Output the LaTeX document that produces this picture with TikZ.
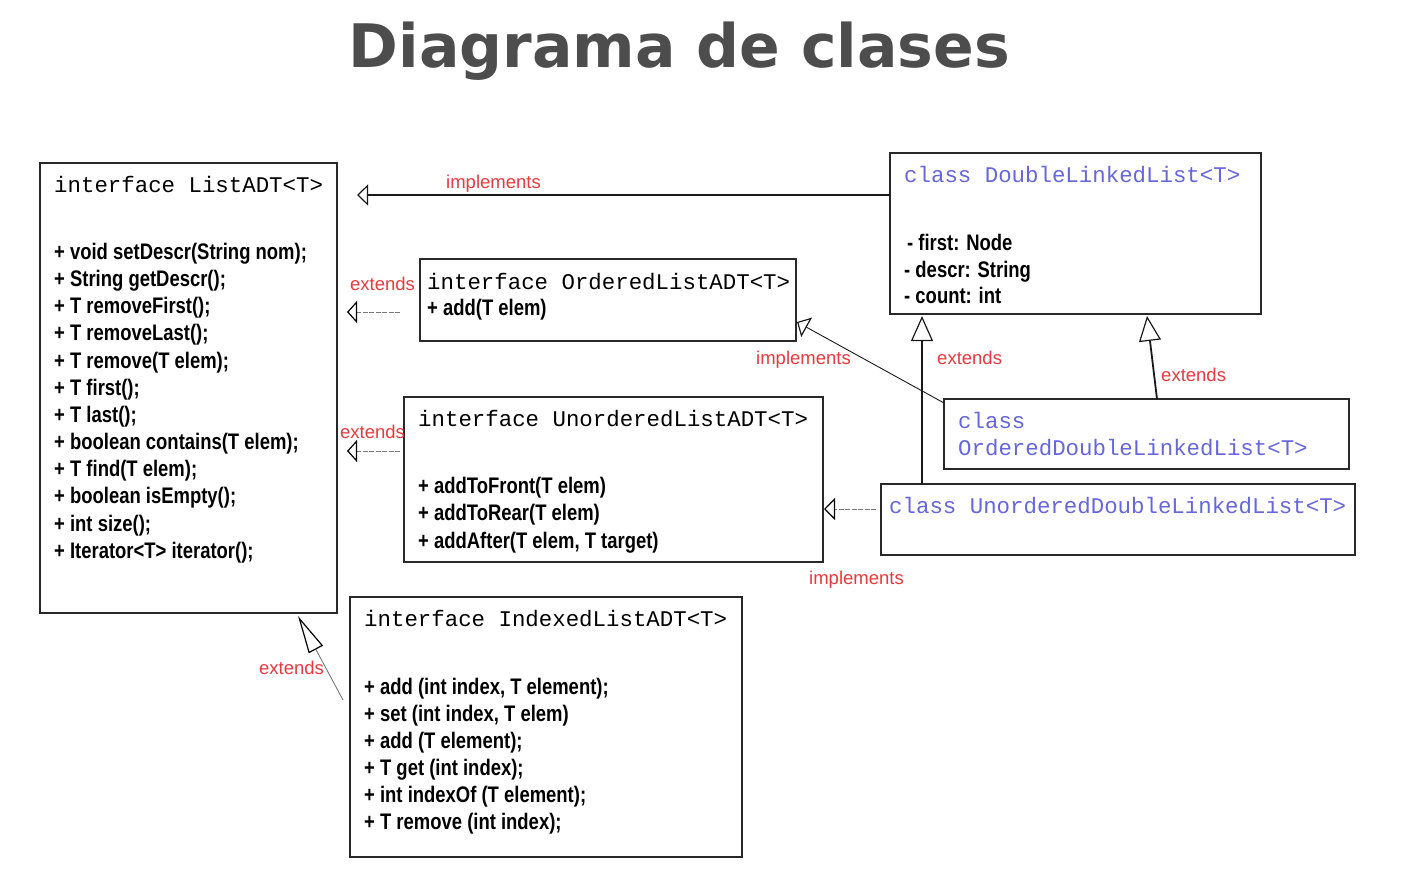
\documentclass[tikz,border=0pt]{standalone}
\usepackage{fontspec}
\setmainfont{Liberation Sans}
\newfontfamily\monof{Liberation Mono}
\newfontfamily\methf{Liberation Sans Bold}[FakeStretch=0.82]
\newfontfamily\titlef{DejaVu Sans Bold}
\usetikzlibrary{arrows.meta,calc}
\definecolor{titlegray}{RGB}{77,77,77}
\definecolor{boxcol}{RGB}{40,40,40}
\definecolor{clsblue}{RGB}{102,102,221}
\definecolor{lblred}{RGB}{232,58,62}
\definecolor{dashgray}{RGB}{120,120,120}
\tikzset{
  umlbox/.style={draw=boxcol, line width=1.2pt, inner sep=0pt, outer sep=0pt, anchor=north west, fill=white},
  hdr/.style={font=\monof\fontsize{22.4}{27}\selectfont, anchor=base west, inner sep=0pt},
  clshdr/.style={hdr, text=clsblue},
  meth/.style={font=\methf\fontsize{22.5}{27}\selectfont, anchor=base west, inner sep=0pt},
  lbl/.style={font=\fontsize{18.5}{22}\selectfont, text=lblred, anchor=base west, inner sep=0pt},
  solidrel/.style={draw=black!90, line width=1.3pt},
  thinrel/.style={draw=black!90, line width=0.9pt},
  dashrel/.style={draw=dashgray, line width=0.9pt, dash pattern=on 5pt off 1.5pt},
  greyrel/.style={draw=dashgray, line width=0.9pt},
}
\begin{document}
\begin{tikzpicture}[x=1pt,y=-1pt]
\fill[white] (0,0) rectangle (1404,873);
\useasboundingbox (0,0) rectangle (1404,873);

% title
\node[font=\titlef\fontsize{60}{70}\selectfont, text=titlegray, anchor=base, inner sep=0pt] (title) at (679.5,67) {Diagrama de clases};

% boxes
\node[umlbox, minimum width=297pt, minimum height=450pt] (list) at (40,163) {};
\node[umlbox, minimum width=371pt, minimum height=161pt] (dll) at (890,153) {};
\node[umlbox, minimum width=376pt, minimum height=82pt] (ord) at (420,259) {};
\node[umlbox, minimum width=419pt, minimum height=165pt] (unord) at (404,397) {};
\node[umlbox, minimum width=392pt, minimum height=260pt] (idx) at (350,597) {};
\node[umlbox, minimum width=405pt, minimum height=70pt] (odll) at (944,399) {};
\node[umlbox, minimum width=474pt, minimum height=71pt] (udll) at (881,484) {};

% ListADT
\node[hdr] (listh) at (54,192) {interface ListADT<T>};
\foreach \t [count=\i] in {+ void setDescr(String nom);, + String getDescr();, + T removeFirst();, + T removeLast();, + T remove(T elem);, + T first();, + T last();, + boolean contains(T elem);, + T find(T elem);, + boolean isEmpty();, + int size();, + Iterator<T> iterator();}
  \node[meth] (lm\i) at (54,{259.5+27.15*(\i-1)}) {\t};

% DoubleLinkedList
\node[clshdr] (dllh) at (904,182) {class DoubleLinkedList<T>};
\node[meth] (dlla1) at (907,250.5) {- first: Node};
\node[meth] (dlla2) at (904,277.5) {- descr: String};
\node[meth] (dlla3) at (904,303.5) {- count: int};

% OrderedListADT
\node[hdr] (ordh) at (427,289) {interface OrderedListADT<T>};
\node[meth] (ordm1) at (427,315.5) {+ add(T elem)};

% UnorderedListADT
\node[hdr] (unordh) at (418,426) {interface UnorderedListADT<T>};
\node[meth] (um1) at (418,493.5) {+ addToFront(T elem)};
\node[meth] (um2) at (418,520.5) {+ addToRear(T elem)};
\node[meth] (um3) at (418,548.5) {+ addAfter(T elem, T target)};

% IndexedListADT
\node[hdr] (idxh) at (364,626) {interface IndexedListADT<T>};
\foreach \t [count=\i] in {{+ add (int index, T element);}, {+ set (int index, T elem)}, + add (T element);, + T get (int index);, + int indexOf (T element);, + T remove (int index);}
  \node[meth] (im\i) at (364,{694.5+27*(\i-1)}) {\t};

% OrderedDoubleLinkedList
\node[clshdr] (odllh1) at (958,428) {class};
\node[clshdr] (odllh2) at (958,455) {OrderedDoubleLinkedList<T>};

% UnorderedDoubleLinkedList
\node[clshdr] (udllh) at (889,513) {class UnorderedDoubleLinkedList<T>};

% free ends
\coordinate (t1) at (357,195);
\coordinate (s2) at (400,312);
\coordinate (t2) at (347,312);
\coordinate (s3) at (400,451);
\coordinate (t3) at (347,451);

% connectors
\draw[solidrel, -{Triangle[open,length=11pt,width=21pt,line width=1.2pt]}] ($(dll.north west)+(0,42)$) -- (t1);
\draw[dashrel, -{Triangle[open,length=10pt,width=22pt,line width=1.2pt,color=black]}] (s2) -- (t2);
\draw[dashrel, -{Triangle[open,length=10pt,width=22pt,line width=1.2pt,color=black]}] (s3) -- (t3);
\draw[thinrel, -{Triangle[open,length=11pt,width=22pt,line width=1.2pt]}] ($(odll.north west)+(0,4)$) -- ($(ord.north east)+(1,63)$);
\draw[solidrel, line width=1.8pt, -{Triangle[open,length=25pt,width=22pt,line width=1.2pt]}] ($(udll.north west)+(41,0)$) -- ($(dll.south west)+(32,2)$);
\draw[solidrel, line width=1.8pt, -{Triangle[open,length=25pt,width=22pt,line width=1.2pt]}] ($(odll.north west)+(213,0)$) -- ($(dll.south west)+(257,2)$);
\draw[dashrel, -{Triangle[open,length=11pt,width=22pt,line width=1.2pt,color=black]}] ($(udll.north west)+(-5,25)$) -- ($(unord.north east)+(1,112)$);
\draw[greyrel, -{Triangle[open,length=38pt,width=16pt,line width=1.2pt,color=black]}] ($(idx.north west)+(-7,103)$) -- ($(list.south east)+(-39,3)$);

% labels
\node[lbl] (l1) at (446,188) {implements};
\node[lbl] (l2) at (350,290) {extends};
\node[lbl] (l3) at (340,438) {extends};
\node[lbl] (l4) at (756,364) {implements};
\node[lbl] (l5) at (937,364) {extends};
\node[lbl] (l6) at (1161,381) {extends};
\node[lbl] (l7) at (809,584) {implements};
\node[lbl] (l8) at (259,674) {extends};
\end{tikzpicture}
\end{document}
